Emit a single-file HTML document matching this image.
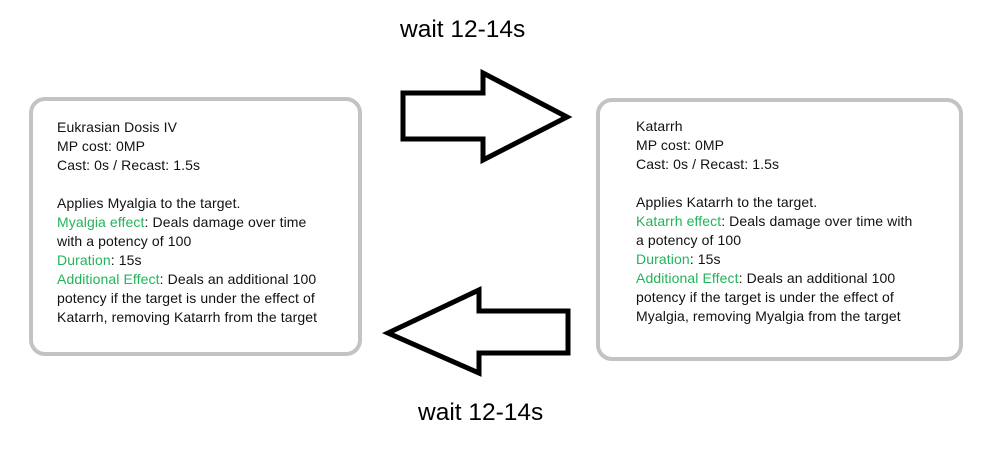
<!DOCTYPE html>
<html><head><meta charset="utf-8"><style>
html,body{margin:0;padding:0;background:#fff;width:993px;height:454px;overflow:hidden;position:relative;font-family:"Liberation Sans",sans-serif;}
.box{position:absolute;border:4px solid #c3c3c3;border-radius:16px;box-sizing:border-box;background:#fff;}
.t{position:absolute;font-size:14px;line-height:19px;color:#111;white-space:pre;letter-spacing:0.1px;}
.g{color:#22b45a;}
.w{position:absolute;font-size:24.5px;color:#000;white-space:nowrap;}
</style></head><body>
<div class="w" style="left:400px;top:16px;">wait 12-14s</div>
<div class="w" style="left:418px;top:399px;">wait 12-14s</div>
<div class="box" style="left:29px;top:97px;width:333px;height:259px;"></div>
<div class="box" style="left:596px;top:98px;width:367px;height:263px;"></div>
<div class="t" style="left:57px;top:118px;">Eukrasian Dosis IV
MP cost: 0MP
Cast: 0s / Recast: 1.5s

Applies Myalgia to the target.
<span class="g">Myalgia effect</span>: Deals damage over time
with a potency of 100
<span class="g">Duration</span>: 15s
<span class="g">Additional Effect</span>: Deals an additional 100
potency if the target is under the effect of
Katarrh, removing Katarrh from the target</div>
<div class="t" style="left:636px;top:117px;">Katarrh
MP cost: 0MP
Cast: 0s / Recast: 1.5s

Applies Katarrh to the target.
<span class="g">Katarrh effect</span>: Deals damage over time with
a potency of 100
<span class="g">Duration</span>: 15s
<span class="g">Additional Effect</span>: Deals an additional 100
potency if the target is under the effect of
Myalgia, removing Myalgia from the target</div>
<svg width="993" height="454" style="position:absolute;left:0;top:0;">
<polygon points="403,93 483,93 483,73 567,117 483,160 483,139 403,139" fill="#fff" stroke="#000" stroke-width="5" stroke-linejoin="miter"/>
<polygon points="568,311 479,311 479,290 388,333 479,373 479,353 568,353" fill="#fff" stroke="#000" stroke-width="5" stroke-linejoin="miter"/>
</svg>
</body></html>
